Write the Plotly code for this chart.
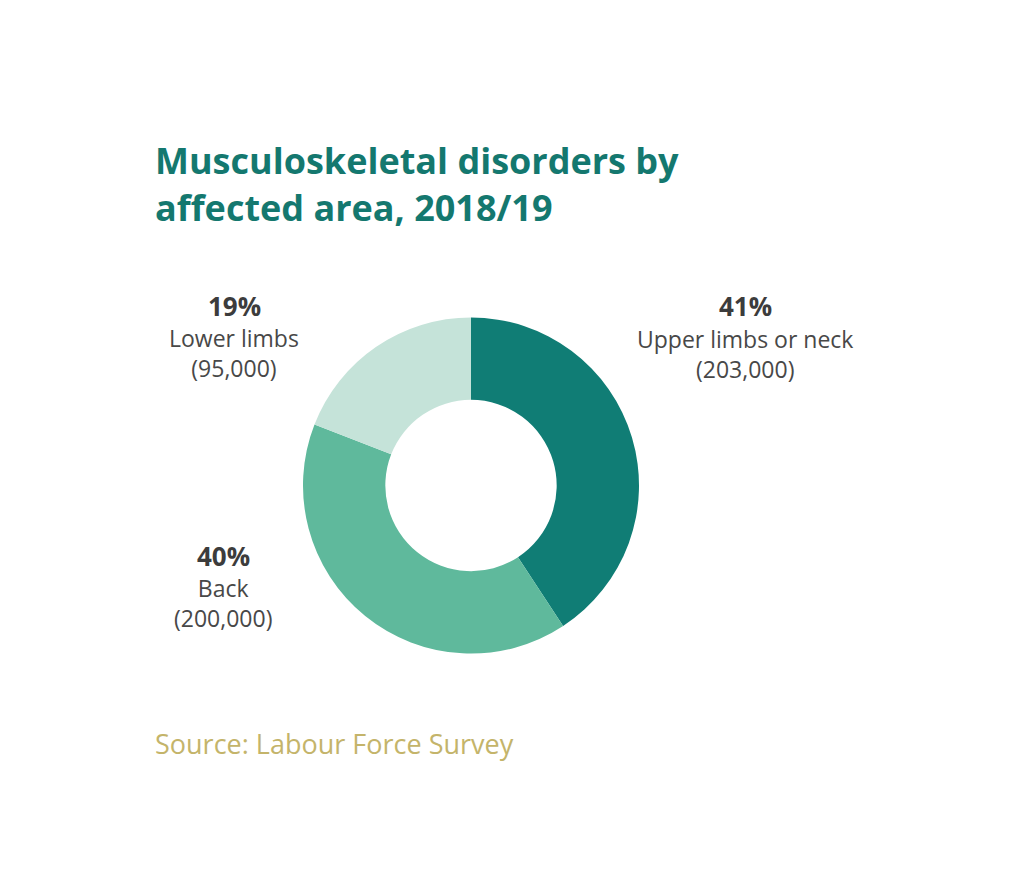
import plotly.graph_objects as go

areas = ["Upper limbs or neck", "Back", "Lower limbs"]
cases = [203000, 200000, 95000]
pct_labels = ["41%", "40%", "19%"]
case_labels = ["(203,000)", "(200,000)", "(95,000)"]
colours = ["#107d75", "#5fb99c", "#c5e3d9"]

W, H = 1024, 889


def px(x):
    return (x - 8) / W


def py(y):
    return 1 - (y - 8) / H


fig = go.Figure()
fig.add_trace(go.Pie(
    labels=areas,
    values=cases,
    hole=0.51,
    sort=False,
    direction="clockwise",
    rotation=0,
    marker=dict(colors=colours, line=dict(width=0)),
    textinfo="none",
    hoverinfo="label+value+percent",
    showlegend=False,
    domain=dict(x=[px(303), px(639)], y=[py(653.5), py(317.5)]),
))

# label anchor points (screen px) for each slice: centre x, pct line y, name/count block y
lab_x = [745, 223, 234]
pct_y = [306, 556, 306]
name_y = [354, 603, 353]
for i in range(len(areas)):
    fig.add_annotation(
        x=px(lab_x[i]), y=py(pct_y[i]), xref="paper", yref="paper",
        xanchor="center", yanchor="middle", showarrow=False,
        text="<b>" + pct_labels[i] + "</b>",
        font=dict(family="Open Sans", size=26, color="#3c3c3c"),
    )
    fig.add_annotation(
        x=px(lab_x[i]), y=py(name_y[i]), xref="paper", yref="paper",
        xanchor="center", yanchor="middle", align="center", showarrow=False,
        text=areas[i] + "<br>" + case_labels[i],
        font=dict(family="Open Sans", size=23, color="#484848"),
    )

fig.add_annotation(
    x=px(153), y=py(184), xref="paper", yref="paper",
    xanchor="left", yanchor="middle", align="left", showarrow=False,
    text="<b>Musculoskeletal disorders by<br>affected area, 2018/19</b>",
    font=dict(family="Open Sans", size=36, color="#14786f"),
)
fig.add_annotation(
    x=px(153), y=py(743), xref="paper", yref="paper",
    xanchor="left", yanchor="middle", align="left", showarrow=False,
    text="Source: Labour Force Survey",
    font=dict(family="Open Sans", size=27, color="#c4b46a"),
)

fig.update_layout(
    width=W, height=H,
    margin=dict(l=0, r=0, t=0, b=0),
    paper_bgcolor="white",
    plot_bgcolor="white",
)
fig.write_html("out.html")
